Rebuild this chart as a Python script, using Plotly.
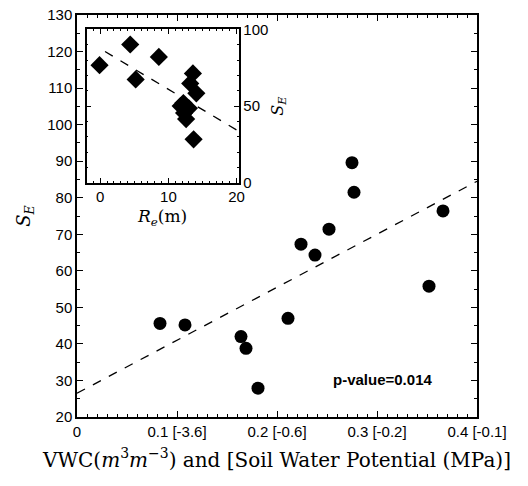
import plotly.graph_objects as go

# Main data: VWC vs S_E
vwc = [0.083, 0.108, 0.164, 0.169, 0.181, 0.211, 0.224, 0.238, 0.252, 0.275, 0.277, 0.352, 0.366]
se_main = [45.6, 45.2, 42.0, 38.8, 27.9, 47.0, 67.3, 64.3, 71.4, 89.6, 81.5, 55.8, 76.4]
fit_x = [0.0, 0.4]
fit_y = [26.5, 84.5]

# Inset data: R_e vs S_E
re = [-0.1, 4.4, 5.2, 8.6, 11.8, 12.2, 12.3, 12.6, 13.0, 13.2, 13.6, 14.1, 13.7]
se_inset = [76.7, 90.2, 67.4, 82.1, 50.0, 52.0, 45.5, 41.5, 48.5, 64.8, 71.3, 58.3, 28.3]
inset_fit_x = [0.7, 20.0]
inset_fit_y = [85.6, 34.4]

x_tickvals = [0, 0.1, 0.2, 0.3, 0.4]
x_ticktext = ["0", "0.1 [-3.6]", "0.2 [-0.6]", "0.3 [-0.2]", "0.4 [-0.1]"]

fig = go.Figure()
fig.add_trace(go.Scatter(x=fit_x, y=fit_y, mode="lines",
                         line=dict(color="black", width=1.3, dash="dash"),
                         showlegend=False, hoverinfo="skip"))
fig.add_trace(go.Scatter(x=vwc, y=se_main, mode="markers",
                         marker=dict(color="black", size=13, symbol="circle"),
                         showlegend=False))
fig.add_trace(go.Scatter(x=inset_fit_x, y=inset_fit_y, mode="lines",
                         line=dict(color="black", width=1.3, dash="dash"),
                         xaxis="x2", yaxis="y2", showlegend=False, hoverinfo="skip"))
fig.add_trace(go.Scatter(x=re, y=se_inset, mode="markers",
                         marker=dict(color="black", size=14, symbol="diamond"),
                         xaxis="x2", yaxis="y2", showlegend=False))

tickfont = dict(family="Arial, Liberation Sans, sans-serif", size=15, color="black")
serif = "DejaVu Serif, serif"

fig.update_layout(
    width=528, height=486,
    margin=dict(l=77, r=51, t=15, b=69),
    paper_bgcolor="white", plot_bgcolor="white",
    xaxis=dict(range=[0, 0.4], tickvals=x_tickvals, ticktext=x_ticktext, automargin=False,
               ticklabeloverflow="allow",
               ticks="inside", ticklen=6, tickwidth=1, tickcolor="black",
               minor=dict(ticks="inside", ticklen=3, dtick=0.01, tickcolor="black"),
               showline=True, linecolor="black", linewidth=1.5, mirror="ticks",
               showgrid=False, zeroline=False, tickfont=tickfont,
               title=dict(text="VWC(<i>m</i><sup>3</sup><i>m</i><sup>−3</sup>) and [Soil Water Potential (MPa)]",
                          font=dict(family=serif, size=20, color="black"), standoff=14)),
    yaxis=dict(range=[20, 130], dtick=10, automargin=False, ticklabeloverflow="allow",
               ticks="inside", ticklen=6, tickwidth=1, tickcolor="black",
               minor=dict(ticks="inside", ticklen=3, dtick=5, tickcolor="black"),
               showline=True, linecolor="black", linewidth=1.5, mirror="ticks",
               showgrid=False, zeroline=False, tickfont=tickfont,
               title=dict(text="<i>S</i><sub><i>E</i></sub>",
                          font=dict(family=serif, size=18, color="black"), standoff=12)),
    xaxis2=dict(domain=[0.024, 0.404], anchor="y2", range=[-2, 20.3], automargin=False,
                ticklabeloverflow="allow",
                tickvals=[0, 10, 20], ticks="inside", ticklen=5, tickcolor="black",
                minor=dict(ticks="inside", ticklen=2, dtick=1, tickcolor="black"),
                showline=True, linecolor="black", linewidth=1.5, mirror="ticks",
                showgrid=False, zeroline=False, tickfont=tickfont,
                title=dict(text="<i>R</i><sub><i>e</i></sub>(m)",
                           font=dict(family=serif, size=17, color="black"), standoff=6)),
    yaxis2=dict(domain=[0.583, 0.964], anchor="x2", side="right", range=[0, 100], automargin=False,
                ticklabeloverflow="allow",
                tickvals=[0, 50, 100], ticks="inside", ticklen=5, tickcolor="black",
                minor=dict(ticks="inside", ticklen=2, dtick=10, tickcolor="black"),
                showline=True, linecolor="black", linewidth=1.5, mirror="ticks",
                showgrid=False, zeroline=False, tickfont=tickfont,
                title=dict(text="<i>S</i><sub><i>E</i></sub>",
                           font=dict(family=serif, size=16, color="black"), standoff=4)),
    annotations=[dict(text="<b>p-value=0.014</b>", x=0.305, y=30.3, xref="x", yref="y",
                      showarrow=False, font=dict(family="Arial, Liberation Sans, sans-serif",
                                                 size=15, color="black"))],
    shapes=[dict(type="rect", xref="paper", yref="paper", x0=0.024, x1=0.404,
                 y0=0.583, y1=0.964, fillcolor="white", line=dict(width=0), layer="below")],
)

fig.write_html("out.html", config={"displayModeBar": False},
               post_script="document.body.style.margin='0px';document.body.style.overflow='hidden';")
